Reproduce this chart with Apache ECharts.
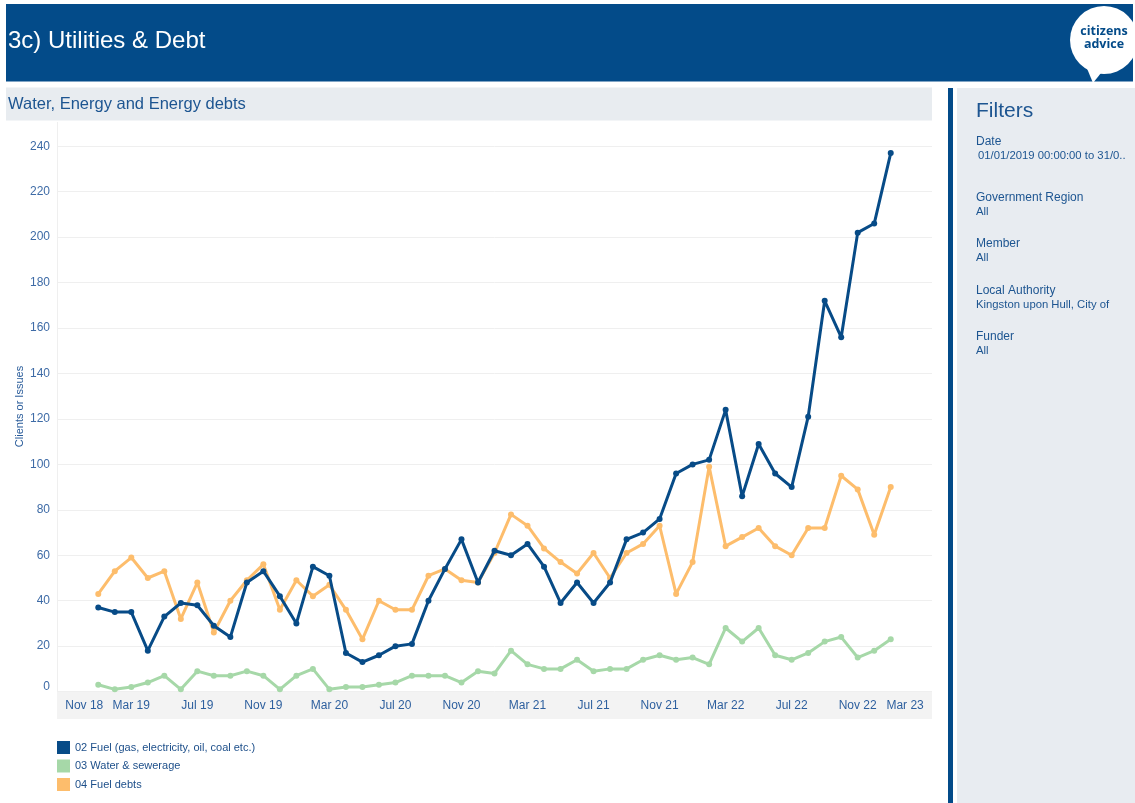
<!DOCTYPE html>
<html>
<head>
<meta charset="utf-8">
<title>3c) Utilities &amp; Debt</title>
<script src="https://cdn.jsdelivr.net/npm/echarts@6/dist/echarts.min.js"></script>
<style>
  html, body { margin: 0; padding: 0; background: #ffffff; }
  #chart { width: 1135px; height: 803px; }
</style>
</head>
<body>
<div id="chart"></div>
<script>
// Month categories on the x axis (Nov 18 .. Mar 23)
const months = [
  'Nov 18','Dec 18',
  'Jan 19','Feb 19','Mar 19','Apr 19','May 19','Jun 19','Jul 19','Aug 19','Sep 19','Oct 19','Nov 19','Dec 19',
  'Jan 20','Feb 20','Mar 20','Apr 20','May 20','Jun 20','Jul 20','Aug 20','Sep 20','Oct 20','Nov 20','Dec 20',
  'Jan 21','Feb 21','Mar 21','Apr 21','May 21','Jun 21','Jul 21','Aug 21','Sep 21','Oct 21','Nov 21','Dec 21',
  'Jan 22','Feb 22','Mar 22','Apr 22','May 22','Jun 22','Jul 22','Aug 22','Sep 22','Oct 22','Nov 22','Dec 22',
  'Jan 23','Feb 23','Mar 23'
];
// Monthly counts, Jan 2019 .. Jan 2023
const fuel = [
  37, 35, 35, 18, 33, 39, 38, 29, 24, 48, 53, 42,
  30, 55, 51, 17, 13, 16, 20, 21, 40, 54, 67, 48,
  62, 60, 65, 55, 39, 48, 39, 48, 67, 70, 76, 96,
  100, 102, 124, 86, 109, 96, 90, 121, 172, 156, 202, 206,
  237
];
const water = [
  3, 1, 2, 4, 7, 1, 9, 7, 7, 9, 7, 1,
  7, 10, 1, 2, 2, 3, 4, 7, 7, 7, 4, 9,
  8, 18, 12, 10, 10, 14, 9, 10, 10, 14, 16, 14,
  15, 12, 28, 22, 28, 16, 14, 17, 22, 24, 15, 18,
  23
];
const fuelDebts = [
  43, 53, 59, 50, 53, 32, 48, 26, 40, 49, 56, 36,
  49, 42, 47, 36, 23, 40, 36, 36, 51, 54, 49, 48,
  61, 78, 73, 63, 57, 52, 61, 50, 61, 65, 73, 43,
  57, 99, 64, 68, 72, 64, 60, 72, 72, 95, 89, 69,
  90
];
const seriesNames = ['02 Fuel (gas, electricity, oil, coal etc.)', '03 Water & sewerage', '04 Fuel debts'];
const yTicks = { min: 0, max: 240, step: 20 };

// Filter panel entries
const filterLabels = ['Date', 'Government Region', 'Member', 'Local Authority', 'Funder'];
const filterValues = ['01/01/2019 00:00:00 to 31/0..', 'All', 'All', 'Kingston upon Hull, City of', 'All'];

// Series values sit on the months Jan 19 .. Jan 23; pad the axis months either side with gaps
const firstIdx = months.indexOf('Jan 19');
function onAxis(values) {
  const out = months.map(() => null);
  values.forEach((v, i) => { out[firstIdx + i] = v; });
  return out;
}

const FONT = '"Liberation Sans", Arial, sans-serif';
const NAVY = '#034b89';
const C_FUEL = '#074b87';
const C_WATER = '#a6d8a8';
const C_DEBT = '#fdbd6c';

const chart = echarts.init(document.getElementById('chart'), null, { renderer: 'canvas' });

const filterGraphics = [];
const filterY = [142, 198, 244, 291, 337];
filterLabels.forEach((label, i) => {
  filterGraphics.push({
    type: 'text', x: 976, y: filterY[i],
    style: { text: label, fill: '#1d5591', font: '12px ' + FONT, verticalAlign: 'middle' }
  });
  filterGraphics.push({
    type: 'text', x: i === 0 ? 978 : 976, y: filterY[i] + 13.5,
    style: { text: filterValues[i], fill: '#1d5591', font: '11.3px ' + FONT, verticalAlign: 'middle' }
  });
});

chart.setOption({
  animation: false,
  backgroundColor: '#ffffff',
  textStyle: { fontFamily: FONT },
  grid: { left: 57, right: 203, top: 146.3, bottom: 111.4, containLabel: false },
  legend: {
    orient: 'vertical', left: 52, top: 736,
    itemWidth: 13, itemHeight: 13, itemGap: 5.5, icon: 'rect',
    selectedMode: false,
    textStyle: { color: '#1d4f8a', fontSize: 11, fontFamily: FONT },
    data: seriesNames
  },
  xAxis: {
    type: 'category', data: months, boundaryGap: true,
    axisLine: { show: false }, axisTick: { show: false },
    splitLine: { show: false },
    axisLabel: {
      interval: 3, color: '#2d5f9e', fontSize: 12, fontFamily: FONT, margin: 8,
      alignMinLabel: 'left', alignMaxLabel: 'right'
    }
  },
  yAxis: {
    type: 'value', min: yTicks.min, max: yTicks.max, interval: yTicks.step,
    axisLine: { show: false }, axisTick: { show: false },
    splitLine: { lineStyle: { color: '#efefef', width: 1 } },
    axisLabel: {
      color: '#3e6ba6', fontSize: 12, fontFamily: FONT, margin: 7,
      formatter: v => (v === 0 ? '{z|0}' : String(v)),
      rich: { z: { color: '#3e6ba6', fontSize: 12, fontFamily: FONT, padding: [0, 0, 10, 0] } }
    }
  },
  series: [
    {
      name: seriesNames[0], type: 'line', data: onAxis(fuel), z: 5,
      symbol: 'circle', symbolSize: 6, showSymbol: true,
      itemStyle: { color: C_FUEL }, lineStyle: { color: C_FUEL, width: 3 }
    },
    {
      name: seriesNames[1], type: 'line', data: onAxis(water), z: 3,
      symbol: 'circle', symbolSize: 6,
      itemStyle: { color: C_WATER }, lineStyle: { color: C_WATER, width: 3 }
    },
    {
      name: seriesNames[2], type: 'line', data: onAxis(fuelDebts), z: 4,
      symbol: 'circle', symbolSize: 6,
      itemStyle: { color: C_DEBT }, lineStyle: { color: C_DEBT, width: 3 }
    }
  ],
  graphic: [
    // page header
    { type: 'rect', left: 6, top: 4, z: -5, shape: { width: 1127, height: 77.5 }, style: { fill: NAVY } },
    { type: 'text', x: 8, y: 41, style: { text: '3c) Utilities & Debt', fill: '#ffffff', font: '24px ' + FONT, verticalAlign: 'middle' } },
    // logo bubble
    { type: 'circle', shape: { cx: 1104, cy: 40, r: 34 }, style: { fill: '#ffffff' } },
    { type: 'polygon', shape: { points: [[1086, 66], [1101, 73], [1093, 83]] }, style: { fill: '#ffffff' } },
    { type: 'text', x: 1104, y: 31, style: { text: 'citizens', fill: NAVY, font: 'bold 12.5px "Open Sans", sans-serif', align: 'center', verticalAlign: 'middle' } },
    { type: 'text', x: 1104, y: 44.5, style: { text: 'advice', fill: NAVY, font: 'bold 12.5px "Open Sans", sans-serif', align: 'center', verticalAlign: 'middle' } },
    // visual heading bar
    { type: 'rect', left: 6, top: 87.5, z: -5, shape: { width: 926, height: 33 }, style: { fill: '#e8ecf0' } },
    { type: 'text', x: 8, y: 104, style: { text: 'Water, Energy and Energy debts', fill: '#1d5591', font: '16.5px ' + FONT, verticalAlign: 'middle' } },
    // x axis band and y axis rule
    { type: 'rect', left: 57, top: 692, z: -5, shape: { width: 875, height: 27 }, style: { fill: '#f3f3f3' } },
    { type: 'line', z: -4, shape: { x1: 57.5, y1: 122, x2: 57.5, y2: 692 }, style: { stroke: '#efefef', lineWidth: 1 } },
    // y axis title
    { type: 'text', x: 19.5, y: 406.5, rotation: Math.PI / 2,
      style: { text: 'Clients or Issues', fill: '#2a5c9a', font: '11px ' + FONT, align: 'center', verticalAlign: 'middle' } },
    // filter pane
    { type: 'rect', left: 948, top: 88, z: -5, shape: { width: 5, height: 715 }, style: { fill: NAVY } },
    { type: 'rect', left: 957, top: 88, z: -5, shape: { width: 178, height: 715 }, style: { fill: '#e8ecf1' } },
    { type: 'text', x: 976, y: 111.5, style: { text: 'Filters', fill: '#1d5591', font: '21px ' + FONT, verticalAlign: 'middle' } }
  ].concat(filterGraphics)
});
</script>
</body>
</html>
